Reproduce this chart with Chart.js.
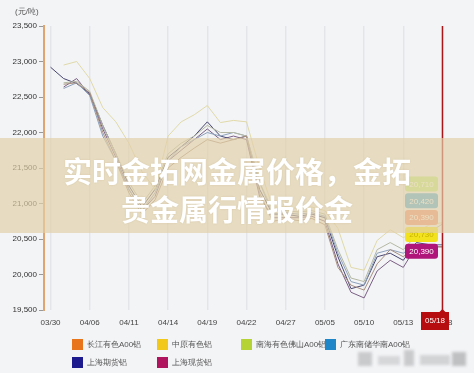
<!DOCTYPE html>
<html>
<head>
<meta charset="utf-8">
<script src="https://cdn.jsdelivr.net/npm/chart.js@4.4.1/dist/chart.umd.min.js"></script>
<style>
  body { margin: 0; background: #f3f4f6; }
  #wrap { position: relative; width: 474px; height: 373px; overflow: hidden; background: #f3f4f6; font-family: "Liberation Sans", Arial, sans-serif; }
  #chart { position: absolute; left: 0; top: 0; }
  #unit { position: absolute; left: 15px; top: 6px; font-size: 8px; color: #555; }
  #band { position: absolute; left: 0; top: 138px; width: 474px; height: 95px; background: rgba(226, 208, 168, 0.68); }
  #title { position: absolute; left: 0; top: 151px; width: 474px; text-align: center; color: #fff; font-family: "Noto Sans CJK SC", sans-serif; font-weight: bold; font-size: 29px; line-height: 38px; text-shadow: 0 0 2px rgba(160,140,100,0.3); }
  .leg { position: absolute; font-size: 8px; color: #555; line-height: 11px; white-space: nowrap; }
  .leg i { display: inline-block; width: 11px; height: 11px; vertical-align: top; margin-right: 4px; }
  .wm { position: absolute; background: #c9cacc; filter: blur(1.5px); }
</style>
</head>
<body>
<div id="wrap">
  <canvas id="chart" width="474" height="373"></canvas>
  <div id="unit">(元/吨)</div>
  <div id="band"></div>
  <div id="title">实时金拓网金属价格，金拓<br>贵金属行情报价金</div>
  <div id="legend"></div>
  <div class="wm" style="left:358px;top:352px;width:14px;height:14px;"></div>
  <div class="wm" style="left:378px;top:356px;width:22px;height:9px;background:#d6d7d9;"></div>
  <div class="wm" style="left:404px;top:350px;width:10px;height:16px;"></div>
  <div class="wm" style="left:420px;top:355px;width:30px;height:10px;background:#d2d3d5;"></div>
  <div class="wm" style="left:452px;top:352px;width:14px;height:14px;background:#bfc0c2;"></div>
</div>
<script>
  // tick dates on the x axis (two unlabeled trading days between each)
  const dateTicks = ["03/30", "04/06", "04/11", "04/14", "04/19", "04/22", "04/27", "05/05", "05/10", "05/13", "05/18"];

  const seriesNames = ["长江有色A00铝", "中原有色铝", "南海有色佛山A00铝", "广东南储华南A00铝", "上海期货铝", "上海现货铝"];
  const legendColors = ["#e8741c", "#f2c81a", "#b5d334", "#1f86c8", "#1c1a8c", "#b0145e"];
  const lineColors = ["#a89080", "#e0d9a8", "#b4b8a2", "#8ca0ba", "#47456f", "#7a5e84"];

  const changjiang = [null, 22680, 22700, 22560, 22000, 21600, 21150, 20850, 21050, 21500, 21650, 21780, 21900, 21850, 21900, 21950, 21150, 20750, 20780, 20760, 20790, 20700, 20100, 19850, 19780, 20150, 20350, 20250, 20400, 20390, 20390];
  const zhongyuan = [null, 22950, 23000, 22760, 22350, 22150, 21850, 21450, 21200, 21950, 22150, 22250, 22380, 22140, 22170, 22150, 21500, 20950, 20950, 20930, 20950, 20900, 20650, 20100, 20060, 20480, 20630, 20520, 20600, 20700, 20730];
  const nanhai = [null, 22700, 22720, 22580, 22100, 21700, 21300, 21000, 21250, 21700, 21850, 21950, 22100, 22000, 22000, 21950, 21300, 20900, 20900, 20880, 20900, 20850, 20350, 19950, 19900, 20350, 20450, 20350, 20550, 20600, 20710];
  const guangdong = [null, 22620, 22700, 22520, 21950, 21600, 21200, 20900, 21150, 21600, 21800, 21900, 22000, 21950, 22000, 21950, 21300, 20850, 20870, 20850, 20870, 20820, 20300, 19900, 19850, 20300, 20350, 20300, 20420, 20420, 20420];
  const shFutures = [22920, 22760, 22690, 22550, 22100, 21700, 21250, 20950, 21200, 21650, 21800, 21950, 22150, 21950, 21900, 21950, 21200, 20850, 20850, 20820, 20850, 20800, 20250, 19800, 19850, 20250, 20300, 20200, 20450, 20420, 20420];
  const shSpot = [null, 22640, 22760, 22530, 22050, 21650, 21200, 20900, 21100, 21600, 21750, 21900, 22050, 21900, 21950, 21900, 21100, 20800, 20800, 20800, 20820, 20750, 20150, 19750, 19670, 20050, 20200, 20100, 20400, 20390, 20390];

  const seriesData = [changjiang, zhongyuan, nanhai, guangdong, shFutures, shSpot];

  // price tags on the right, top to bottom (series index)
  const tagOrder = [2, 3, 0, 1, 5];
  const tagColors = ["#bdeb7b", "#4ea9d6", "#f09070", "#f2e21e", "#b0157a"];
  const tagTextColors = ["#fff", "#fff", "#fff", "#c8b400", "#fff"];

  const labels = [];
  dateTicks.forEach(function (d, i) {
    labels.push(d);
    if (i < dateTicks.length - 1) { labels.push(""); labels.push(""); }
  });

  // HTML legend, 4 columns
  const legend = document.getElementById("legend");
  const colX = [72, 157, 241, 325];
  seriesNames.forEach(function (name, i) {
    const el = document.createElement("div");
    el.className = "leg";
    el.style.left = colX[i % 4] + "px";
    el.style.top = (i < 4 ? 339 : 357) + "px";
    el.innerHTML = '<i style="background:' + legendColors[i] + '"></i>' + name;
    legend.appendChild(el);
  });

  const markerPlugin = {
    id: "marker",
    afterDatasetsDraw(chart) {
      const ctx = chart.ctx;
      const area = chart.chartArea;
      const x = chart.scales.x.getPixelForValue(labels.length - 1);
      ctx.save();
      // red vertical marker
      ctx.strokeStyle = "#a8161a";
      ctx.lineWidth = 1.5;
      ctx.beginPath();
      ctx.moveTo(x, area.top);
      ctx.lineTo(x, area.bottom + 2);
      ctx.stroke();

      // price tags
      tagOrder.forEach(function (si, k) {
        const data = seriesData[si];
        const v = data[data.length - 1];
        const ty = 184 + k * 16.8;
        ctx.fillStyle = tagColors[k];
        ctx.beginPath();
        ctx.roundRect(405, ty - 7.5, 33, 15, 3);
        ctx.fill();
        ctx.fillStyle = tagTextColors[k];
        ctx.font = "8px 'Liberation Sans', Arial, sans-serif";
        ctx.textAlign = "center";
        ctx.textBaseline = "middle";
        ctx.fillText(v.toLocaleString("en-US"), 421.5, ty + 0.5);
      });

      // date box under the marker
      ctx.fillStyle = "#b50d10";
      ctx.beginPath();
      ctx.moveTo(x - 3, area.bottom + 2);
      ctx.lineTo(x, area.bottom - 1);
      ctx.lineTo(x + 3, area.bottom + 2);
      ctx.fill();
      ctx.fillRect(421, area.bottom + 2, 28, 18);
      ctx.fillStyle = "#fff";
      ctx.font = "8px 'Liberation Sans', Arial, sans-serif";
      ctx.textAlign = "center";
      ctx.textBaseline = "middle";
      ctx.fillText(dateTicks[dateTicks.length - 1], 435, area.bottom + 11);
      ctx.restore();
    }
  };

  const ctx = document.getElementById("chart").getContext("2d");
  new Chart(ctx, {
    type: "line",
    data: {
      labels: labels,
      datasets: seriesNames.map(function (name, i) {
        return {
          label: name,
          data: seriesData[i],
          borderColor: lineColors[i],
          borderWidth: 1,
          pointRadius: 0,
          tension: 0,
          fill: false
        };
      })
    },
    options: {
      responsive: false,
      animation: false,
      devicePixelRatio: 1,
      layout: { padding: { left: 0, right: 25, top: 26, bottom: 0 } },
      plugins: { legend: { display: false }, tooltip: { enabled: false } },
      scales: {
        x: {
          offset: true,
          afterFit: function (s) { s.height = 63; },
          grid: {
            offset: false,
            drawTicks: false,
            color: function (c) { return c.tick && c.tick.label ? "#e3e5e9" : "transparent"; },
            lineWidth: 1.5
          },
          border: { display: false },
          ticks: {
            autoSkip: false,
            maxRotation: 0,
            padding: 8,
            color: "#444",
            font: { family: "'Liberation Sans', Arial, sans-serif", size: 8 }
          }
        },
        y: {
          min: 19500,
          max: 23500,
          afterFit: function (s) { s.width = 44; },
          grid: { drawOnChartArea: false, tickLength: 5, color: "#999" },
          border: { color: "#e2a46e", width: 2 },
          ticks: {
            stepSize: 500,
            padding: 2,
            color: "#333",
            font: { family: "'Liberation Sans', Arial, sans-serif", size: 8 },
            callback: function (v) { return v.toLocaleString("en-US"); }
          }
        }
      }
    },
    plugins: [markerPlugin]
  });
</script>
</body>
</html>
